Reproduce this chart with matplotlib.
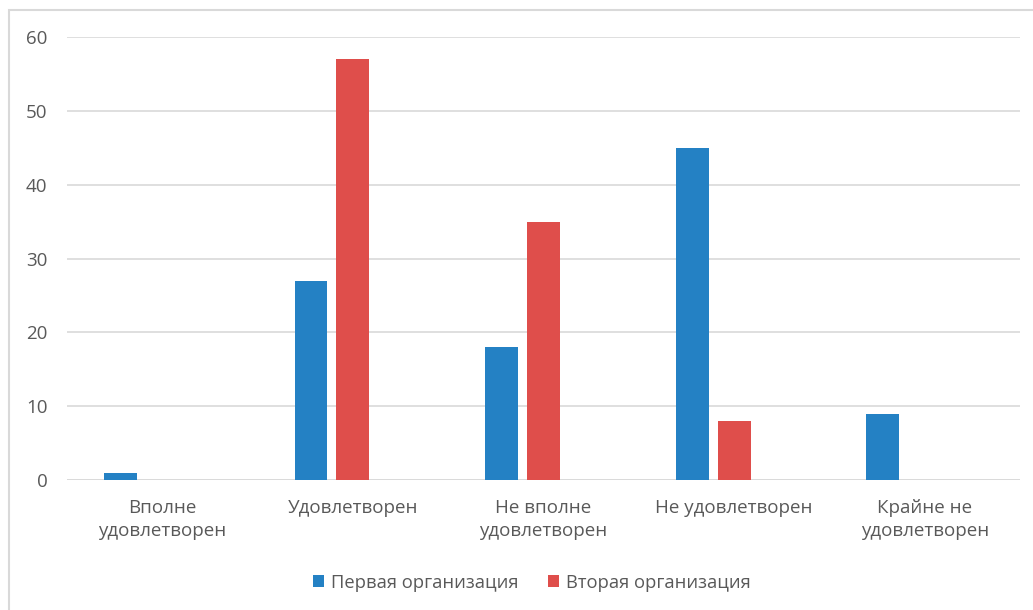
import numpy as np
import matplotlib.pyplot as plt
from matplotlib.patches import Rectangle

categories = ['Вполне\nудовлетворен', 'Удовлетворен', 'Не вполне\nудовлетворен',
              'Не удовлетворен', 'Крайне не\nудовлетворен']
first_org = [1, 27, 18, 45, 9]
second_org = [0, 57, 35, 8, 0]
series_names = ['Первая организация', 'Вторая организация']

plt.rcParams['font.family'] = ['Open Sans', 'DejaVu Sans']
text_color = '#595959'

fig = plt.figure(figsize=(10.33, 6.10), dpi=100)
ax = fig.add_axes([0.0649, 0.2131, 0.9225, 0.7262])

# chart border like in Excel (left and top only visible)
fig.patches.append(Rectangle((9 / 1033, -0.5), 1.5, 0.5 + 600 / 610,
                             transform=fig.transFigure, fill=False,
                             edgecolor='#d9d9d9', linewidth=1.5))

x = np.arange(len(categories))
w = 0.173
step = 0.22
ax.bar(x - step, first_org, w, color='#2481c4', label=series_names[0], zorder=3)
ax.bar(x, second_org, w, color='#df4e4b', label=series_names[1], zorder=3)

ax.set_xlim(-0.5, len(categories) - 0.5)
ax.set_ylim(0, 60)
ax.set_yticks(range(0, 61, 10))
ax.set_xticks(x)
ax.set_xticklabels(categories, linespacing=1.3)
ax.yaxis.grid(True, color='#d9d9d9', linewidth=1.2, zorder=0)
for s in ax.spines.values():
    s.set_visible(False)
ax.axhline(0, color='#d9d9d9', linewidth=1.2, zorder=2)
ax.tick_params(length=0, labelsize=13.5, colors=text_color)
ax.tick_params(axis='x', pad=14)
ax.tick_params(axis='y', pad=14)

ax.legend(loc='center', bbox_to_anchor=(0.488, -0.232), ncol=2, frameon=False,
          fontsize=13.2, labelcolor=text_color, handlelength=0.6, handleheight=0.6,
          handletextpad=0.4, columnspacing=1.6)

fig.savefig('out.png', dpi=100)
